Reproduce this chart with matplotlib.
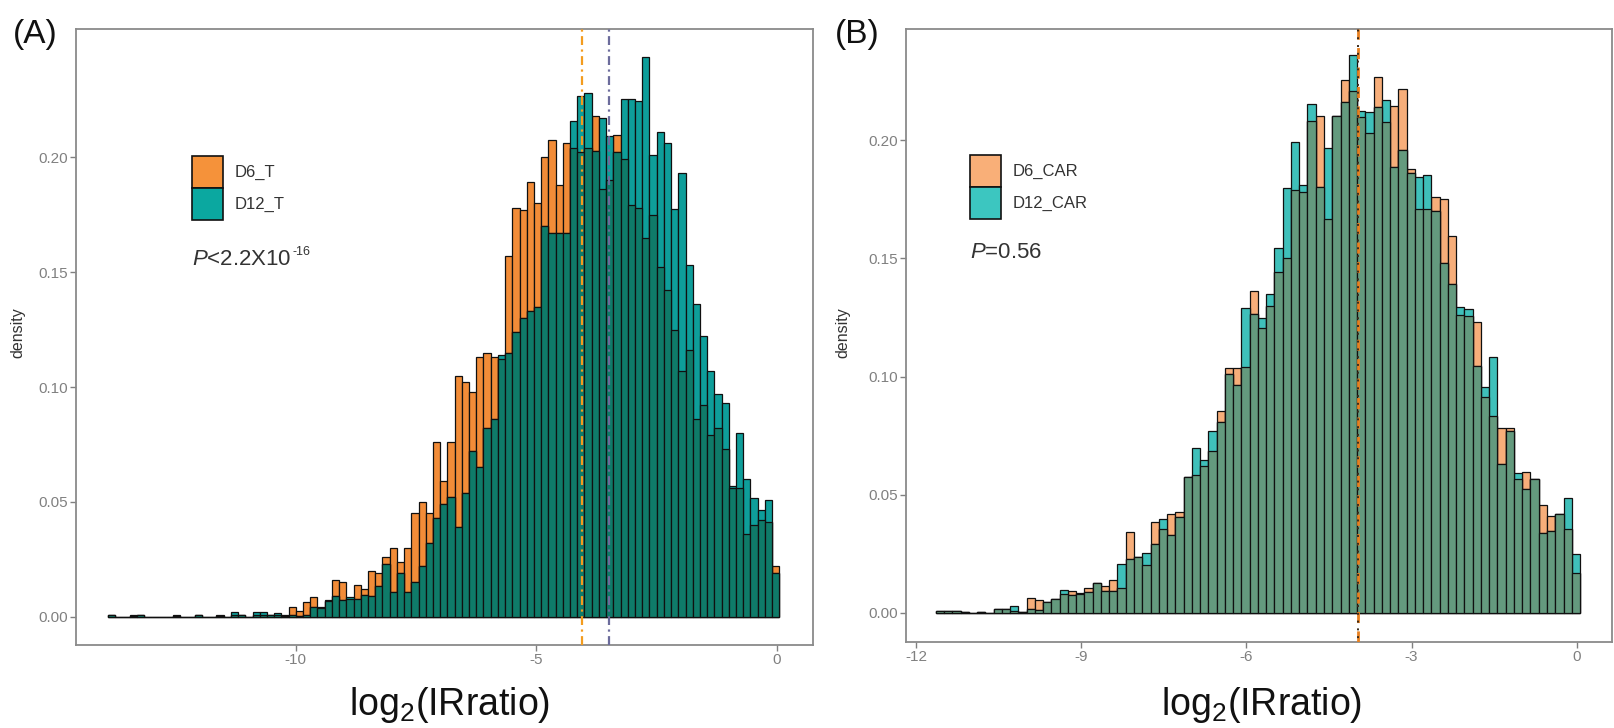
import numpy as np
import matplotlib
matplotlib.use('Agg')
import matplotlib.pyplot as plt
from matplotlib.patches import Rectangle

plt.rcParams['font.family'] = ['Liberation Sans', 'DejaVu Sans']
plt.rcParams['mathtext.fontset'] = 'custom'
plt.rcParams['mathtext.rm'] = 'Liberation Sans'
plt.rcParams['mathtext.it'] = 'Liberation Sans:italic'
plt.rcParams['mathtext.bf'] = 'Liberation Sans:bold'
plt.rcParams['axes.unicode_minus'] = False

# ---------------- data ----------------
# Panel A: histogram densities, bins of width 0.15 starting at -13.90
a_bin_start = -13.90
a_bin_width = 0.15
a_d6 = [
    0.001, 0, 0, 0.001, 0.001, 0, 0, 0, 0, 0.001,
    0, 0, 0.001, 0, 0, 0.001, 0, 0.001, 0.0008, 0,
    0.001, 0.001, 0.0008, 0.001, 0.0005, 0.0043, 0.0028, 0.0064, 0.0087, 0.004,
    0.0068, 0.0162, 0.015, 0.008, 0.014, 0.012, 0.020, 0.019, 0.026, 0.030,
    0.024, 0.030, 0.045, 0.050, 0.045, 0.076, 0.059, 0.076, 0.105, 0.102,
    0.098, 0.113, 0.115, 0.113, 0.112, 0.157, 0.178, 0.177, 0.189, 0.180,
    0.200, 0.2075, 0.188, 0.206, 0.204, 0.202, 0.204, 0.218, 0.186, 0.190,
    0.2097, 0.199, 0.179, 0.178, 0.165, 0.175, 0.152, 0.142, 0.125, 0.107,
    0.116, 0.086, 0.092, 0.079, 0.082, 0.073, 0.056, 0.056, 0.036, 0.040,
    0.042, 0.0415, 0.022,
]
a_d12 = [
    0.001, 0, 0, 0.0005, 0.001, 0, 0, 0, 0, 0.0005,
    0, 0, 0.001, 0, 0, 0.0005, 0, 0.002, 0.001, 0,
    0.002, 0.002, 0.001, 0.0018, 0.001, 0.001, 0.0005, 0.001, 0.0043, 0.0043,
    0.0072, 0.009, 0.0072, 0.0085, 0.0078, 0.0097, 0.009, 0.0136, 0.023, 0.011,
    0.019, 0.011, 0.015, 0.022, 0.032, 0.043, 0.049, 0.052, 0.039, 0.054,
    0.072, 0.065, 0.082, 0.086, 0.114, 0.115, 0.124, 0.130, 0.133, 0.135,
    0.170, 0.167, 0.167, 0.167, 0.2157, 0.2266, 0.2278, 0.2026, 0.217, 0.209,
    0.202, 0.2253, 0.2253, 0.2244, 0.2437, 0.201, 0.211, 0.206, 0.1775, 0.193,
    0.153, 0.136, 0.122, 0.107, 0.097, 0.093, 0.057, 0.080, 0.060, 0.0516,
    0.0465, 0.0507, 0.019,
]
a_mean_d6 = -4.06
a_mean_d12 = -3.49
a_labels = ['D6_T', 'D12_T']
a_ptext = r'$\mathit{P}$<2.2X10'
a_pexp = '-16'
a_xticks = [-10, -5, 0]

# Panel B
b_bin_start = -11.64
b_bin_width = 0.15
b_d6 = [
    0.0007, 0.0007, 0.0007, 0.0005, 0, 0.0005, 0, 0.0018, 0.0018, 0.001,
    0.0005, 0.0063, 0.0056, 0.0045, 0.006, 0.0082, 0.0092, 0.008, 0.0106, 0.0125,
    0.0113, 0.0138, 0.0106, 0.0343, 0.0235, 0.0202, 0.0385, 0.0355, 0.0417, 0.0428,
    0.0574, 0.0582, 0.0623, 0.0687, 0.0854, 0.1036, 0.1036, 0.1039, 0.1362, 0.1205,
    0.1298, 0.144, 0.1502, 0.1788, 0.178, 0.208, 0.2104, 0.1667, 0.2104, 0.2253,
    0.2209, 0.2096, 0.2031, 0.2269, 0.2075, 0.2144, 0.2217, 0.1877, 0.1707, 0.1707,
    0.1761, 0.1751, 0.1594, 0.1262, 0.1254, 0.123, 0.0914, 0.0833, 0.0784, 0.0784,
    0.0566, 0.0598, 0.0566, 0.0456, 0.0412, 0.042, 0.0355, 0.0169,
]
b_d12 = [
    0.0007, 0.0007, 0.0007, 0.0005, 0, 0.0005, 0, 0.0018, 0.0018, 0.0028,
    0.0005, 0.0018, 0.0014, 0.0047, 0.0057, 0.0099, 0.0075, 0.0085, 0.0089, 0.0127,
    0.0093, 0.0092, 0.0209, 0.023, 0.0237, 0.0254, 0.0293, 0.0396, 0.0331, 0.0404,
    0.0574, 0.0699, 0.0647, 0.0768, 0.0809, 0.1011, 0.0963, 0.1291, 0.1265, 0.1249,
    0.1351, 0.1545, 0.1796, 0.1994, 0.181, 0.2153, 0.1801, 0.1966, 0.2100, 0.2160,
    0.236, 0.2123, 0.212, 0.214, 0.2169, 0.1885, 0.1958, 0.1861, 0.1845, 0.1853,
    0.1699, 0.1481, 0.1392, 0.1295, 0.1286, 0.1043, 0.0954, 0.1084, 0.0631, 0.0768,
    0.059, 0.0525, 0.0566, 0.0339, 0.0347, 0.042, 0.0485, 0.025,
]
b_mean_d6 = -3.98
b_mean_d12 = -3.97
b_labels = ['D6_CAR', 'D12_CAR']
b_ptext = r'$\mathit{P}$=0.56'
b_xticks = [-12, -9, -6, -3, 0]

y_ticks = [0.00, 0.05, 0.10, 0.15, 0.20]
x_label = 'log$_2$(IRratio)'

# ---------------- figure ----------------
W, H = 1615, 728
fig = plt.figure(figsize=(W / 100, H / 100), dpi=100)

def px_axes(l, t, r, b):
    return fig.add_axes([l / W, 1 - b / H, (r - l) / W, (b - t) / H])

axA = px_axes(76, 29, 813, 645)
axB = px_axes(906, 29, 1612, 642)

GRAY = '#808080'

def draw_hist(ax, start, width, d6, d12, c6, c12, cov):
    d6 = np.asarray(d6, float)
    d12 = np.asarray(d12, float)
    edges = start + width * np.arange(len(d6) + 1)
    centers = (edges[:-1] + edges[1:]) / 2
    kw = dict(width=width, edgecolor='#101010', linewidth=0.9, align='center')
    ax.bar(centers, d6, color=c6, zorder=2, **kw)
    ax.bar(centers, d12, color=c12, zorder=3, **kw)
    ax.bar(centers, np.minimum(d6, d12), color=cov, zorder=4, **kw)

def style(ax, xlim, ylim, xticks):
    ax.set_xlim(*xlim)
    ax.set_ylim(*ylim)
    ax.set_xticks(xticks)
    ax.set_xticklabels([str(v) for v in xticks])
    ax.set_yticks(y_ticks)
    ax.set_yticklabels(['%.2f' % v for v in y_ticks])
    for s in ax.spines.values():
        s.set_color('#8a8a8a')
        s.set_linewidth(1.3)
    ax.tick_params(axis='both', colors=GRAY, labelcolor=GRAY, labelsize=11,
                   length=4, width=1.0, pad=2)

# Panel A
draw_hist(axA, a_bin_start, a_bin_width, a_d6, a_d12,
          '#F28C38', '#0E9E9A', '#0F7B69')
axA.axvline(a_mean_d6, color='#F39C1F', lw=1.6, ls=(0, (4, 2, 1, 2)), zorder=6)
axA.axvline(a_mean_d12, color='#6C6C9C', lw=1.6, ls=(0, (4, 2, 1, 2)), zorder=6)
style(axA, (-14.57, 0.75), (-0.0122, 0.2557), a_xticks)

# Panel B
draw_hist(axB, b_bin_start, b_bin_width, b_d6, b_d12,
          '#F7AE7A', '#3FC0BA', '#649A7E')
axB.axvline(b_mean_d6, color='#E8801F', lw=2.0, ls=(0, (4, 3)), zorder=6)
axB.axvline(b_mean_d12, color='#3a2a1a', lw=1.4, ls=(2, (1, 3)), zorder=7)
style(axB, (-12.18, 0.64), (-0.0123, 0.247), b_xticks)

# axis titles
for cx, cy in [(18, 333), (843, 333)]:
    fig.text(cx / W, 1 - cy / H, 'density', rotation=90, ha='center', va='center',
             fontsize=11.5, color='#333333')
for cx in [450, 1262]:
    fig.text(cx / W, 1 - 705 / H, x_label, ha='center', va='center',
             fontsize=27, color='#111111')

# panel tags
fig.text(13 / W, 1 - 34 / H, '(A)', ha='left', va='center', fontsize=24, color='#111111')
fig.text(835 / W, 1 - 35 / H, '(B)', ha='left', va='center', fontsize=24, color='#111111')

# legends (manual keys, ggplot style)
renderer = fig.canvas.get_renderer()

def legend(x0, y0, labels, colors, ptext, py, pexp=None):
    kh = 32
    for i, (lab, col) in enumerate(zip(labels, colors)):
        top = y0 + i * kh
        fig.add_artist(Rectangle((x0 / W, 1 - (top + kh) / H), 31 / W, kh / H,
                                 transform=fig.transFigure, facecolor=col,
                                 edgecolor='#111111', linewidth=1.2))
        fig.text((x0 + 43) / W, 1 - (top + kh / 2) / H, lab, ha='left', va='center',
                 fontsize=12, color='#333333')
    t = fig.text(x0 / W, 1 - py / H, ptext, ha='left', va='baseline', fontsize=16,
                 color='#333333')
    if pexp:
        bb = t.get_window_extent(renderer=renderer)
        fig.text((bb.x1 + 1) / W, 1 - (py - 10) / H, pexp, ha='left', va='baseline',
                 fontsize=9, color='#333333')

legend(192, 156, a_labels, ['#F5923A', '#0BA8A0'], a_ptext, 265, a_pexp)
legend(970, 155, b_labels, ['#F9AF78', '#3CC6C0'], b_ptext, 258)

fig.savefig('out.png', dpi=100)
